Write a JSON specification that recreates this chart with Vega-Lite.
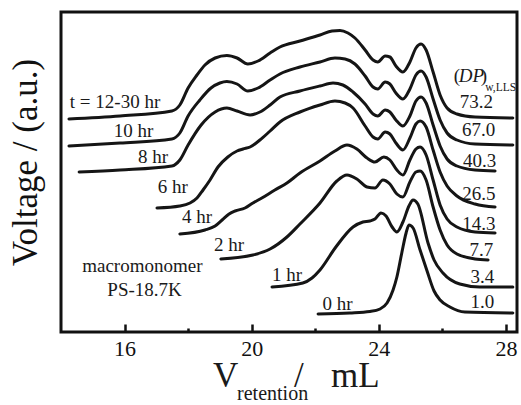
{
  "$schema": "https://vega.github.io/schema/vega-lite/v6.json",
  "width": 456,
  "height": 320,
  "autosize": {"type": "none"},
  "padding": {"left": 61, "top": 12, "right": 4, "bottom": 73},
  "background": "white",
  "config": {
    "view": {"stroke": "#111", "strokeWidth": 3}
  },
  "datasets": {
    "traces": [
      {"trace": "12-30 hr", "v": 14.25, "s": 213}, {"trace": "12-30 hr", "v": 15.86, "s": 216}, {"trace": "12-30 hr", "v": 17.49, "s": 221}, {"trace": "12-30 hr", "v": 17.74, "s": 227}, {"trace": "12-30 hr", "v": 18.0, "s": 244}, {"trace": "12-30 hr", "v": 18.28, "s": 257}, {"trace": "12-30 hr", "v": 18.53, "s": 267}, {"trace": "12-30 hr", "v": 18.85, "s": 274}, {"trace": "12-30 hr", "v": 19.22, "s": 276.5}, {"trace": "12-30 hr", "v": 19.54, "s": 274}, {"trace": "12-30 hr", "v": 19.88, "s": 268}, {"trace": "12-30 hr", "v": 20.2, "s": 271}, {"trace": "12-30 hr", "v": 20.58, "s": 279}, {"trace": "12-30 hr", "v": 20.89, "s": 285}, {"trace": "12-30 hr", "v": 21.52, "s": 291}, {"trace": "12-30 hr", "v": 22.15, "s": 297}, {"trace": "12-30 hr", "v": 22.53, "s": 301}, {"trace": "12-30 hr", "v": 22.78, "s": 301.5}, {"trace": "12-30 hr", "v": 23.03, "s": 299}, {"trace": "12-30 hr", "v": 23.25, "s": 294}, {"trace": "12-30 hr", "v": 23.57, "s": 282}, {"trace": "12-30 hr", "v": 23.82, "s": 272}, {"trace": "12-30 hr", "v": 23.97, "s": 270}, {"trace": "12-30 hr", "v": 24.2, "s": 276}, {"trace": "12-30 hr", "v": 24.35, "s": 275}, {"trace": "12-30 hr", "v": 24.54, "s": 266}, {"trace": "12-30 hr", "v": 24.76, "s": 260}, {"trace": "12-30 hr", "v": 24.98, "s": 270}, {"trace": "12-30 hr", "v": 25.17, "s": 284}, {"trace": "12-30 hr", "v": 25.33, "s": 288}, {"trace": "12-30 hr", "v": 25.49, "s": 282}, {"trace": "12-30 hr", "v": 25.71, "s": 260}, {"trace": "12-30 hr", "v": 25.93, "s": 237}, {"trace": "12-30 hr", "v": 26.15, "s": 224}, {"trace": "12-30 hr", "v": 26.46, "s": 218}, {"trace": "12-30 hr", "v": 27.03, "s": 215}, {"trace": "12-30 hr", "v": 28.22, "s": 214},

      {"trace": "10 hr", "v": 14.25, "s": 186}, {"trace": "10 hr", "v": 15.86, "s": 189}, {"trace": "10 hr", "v": 17.49, "s": 193}, {"trace": "10 hr", "v": 17.74, "s": 199}, {"trace": "10 hr", "v": 18.0, "s": 216}, {"trace": "10 hr", "v": 18.37, "s": 232}, {"trace": "10 hr", "v": 18.72, "s": 244}, {"trace": "10 hr", "v": 19.0, "s": 249}, {"trace": "10 hr", "v": 19.22, "s": 250.5}, {"trace": "10 hr", "v": 19.54, "s": 248}, {"trace": "10 hr", "v": 19.88, "s": 241}, {"trace": "10 hr", "v": 20.2, "s": 244}, {"trace": "10 hr", "v": 20.58, "s": 252}, {"trace": "10 hr", "v": 20.89, "s": 258}, {"trace": "10 hr", "v": 21.52, "s": 265}, {"trace": "10 hr", "v": 22.15, "s": 270}, {"trace": "10 hr", "v": 22.62, "s": 274}, {"trace": "10 hr", "v": 22.94, "s": 273}, {"trace": "10 hr", "v": 23.25, "s": 268}, {"trace": "10 hr", "v": 23.57, "s": 256}, {"trace": "10 hr", "v": 23.82, "s": 245}, {"trace": "10 hr", "v": 23.97, "s": 243}, {"trace": "10 hr", "v": 24.2, "s": 250}, {"trace": "10 hr", "v": 24.35, "s": 248}, {"trace": "10 hr", "v": 24.54, "s": 239}, {"trace": "10 hr", "v": 24.76, "s": 233}, {"trace": "10 hr", "v": 24.98, "s": 243}, {"trace": "10 hr", "v": 25.17, "s": 257}, {"trace": "10 hr", "v": 25.33, "s": 261}, {"trace": "10 hr", "v": 25.49, "s": 255}, {"trace": "10 hr", "v": 25.71, "s": 233}, {"trace": "10 hr", "v": 25.93, "s": 212}, {"trace": "10 hr", "v": 26.15, "s": 199}, {"trace": "10 hr", "v": 26.46, "s": 192}, {"trace": "10 hr", "v": 27.03, "s": 188}, {"trace": "10 hr", "v": 28.22, "s": 187},

      {"trace": "8 hr", "v": 14.57, "s": 160}, {"trace": "8 hr", "v": 15.86, "s": 162}, {"trace": "8 hr", "v": 17.49, "s": 166}, {"trace": "8 hr", "v": 17.74, "s": 172}, {"trace": "8 hr", "v": 18.0, "s": 187}, {"trace": "8 hr", "v": 18.41, "s": 207}, {"trace": "8 hr", "v": 18.85, "s": 220}, {"trace": "8 hr", "v": 19.22, "s": 224}, {"trace": "8 hr", "v": 19.54, "s": 221}, {"trace": "8 hr", "v": 19.95, "s": 217}, {"trace": "8 hr", "v": 20.26, "s": 220}, {"trace": "8 hr", "v": 20.58, "s": 227}, {"trace": "8 hr", "v": 20.89, "s": 235}, {"trace": "8 hr", "v": 21.52, "s": 241}, {"trace": "8 hr", "v": 22.15, "s": 246}, {"trace": "8 hr", "v": 22.56, "s": 249}, {"trace": "8 hr", "v": 22.87, "s": 247}, {"trace": "8 hr", "v": 23.19, "s": 240}, {"trace": "8 hr", "v": 23.57, "s": 228}, {"trace": "8 hr", "v": 23.82, "s": 218}, {"trace": "8 hr", "v": 23.97, "s": 216}, {"trace": "8 hr", "v": 24.2, "s": 222}, {"trace": "8 hr", "v": 24.35, "s": 220}, {"trace": "8 hr", "v": 24.54, "s": 212}, {"trace": "8 hr", "v": 24.76, "s": 206}, {"trace": "8 hr", "v": 24.98, "s": 216}, {"trace": "8 hr", "v": 25.17, "s": 231}, {"trace": "8 hr", "v": 25.33, "s": 235}, {"trace": "8 hr", "v": 25.49, "s": 229}, {"trace": "8 hr", "v": 25.71, "s": 207}, {"trace": "8 hr", "v": 25.93, "s": 186}, {"trace": "8 hr", "v": 26.15, "s": 173}, {"trace": "8 hr", "v": 26.46, "s": 166}, {"trace": "8 hr", "v": 27.03, "s": 162}, {"trace": "8 hr", "v": 27.66, "s": 161},

      {"trace": "6 hr", "v": 17.02, "s": 124}, {"trace": "6 hr", "v": 17.74, "s": 126}, {"trace": "6 hr", "v": 18.06, "s": 129}, {"trace": "6 hr", "v": 18.28, "s": 134}, {"trace": "6 hr", "v": 18.47, "s": 142}, {"trace": "6 hr", "v": 18.69, "s": 152}, {"trace": "6 hr", "v": 18.94, "s": 165}, {"trace": "6 hr", "v": 19.25, "s": 175}, {"trace": "6 hr", "v": 19.54, "s": 181}, {"trace": "6 hr", "v": 19.73, "s": 183}, {"trace": "6 hr", "v": 19.95, "s": 185}, {"trace": "6 hr", "v": 20.26, "s": 192}, {"trace": "6 hr", "v": 20.58, "s": 201}, {"trace": "6 hr", "v": 20.89, "s": 210}, {"trace": "6 hr", "v": 21.52, "s": 220}, {"trace": "6 hr", "v": 22.15, "s": 227}, {"trace": "6 hr", "v": 22.62, "s": 231}, {"trace": "6 hr", "v": 22.94, "s": 229}, {"trace": "6 hr", "v": 23.19, "s": 224}, {"trace": "6 hr", "v": 23.57, "s": 206}, {"trace": "6 hr", "v": 23.82, "s": 195}, {"trace": "6 hr", "v": 23.97, "s": 193}, {"trace": "6 hr", "v": 24.2, "s": 200}, {"trace": "6 hr", "v": 24.35, "s": 198}, {"trace": "6 hr", "v": 24.54, "s": 189}, {"trace": "6 hr", "v": 24.76, "s": 182}, {"trace": "6 hr", "v": 24.98, "s": 194}, {"trace": "6 hr", "v": 25.17, "s": 208}, {"trace": "6 hr", "v": 25.3, "s": 211}, {"trace": "6 hr", "v": 25.49, "s": 205}, {"trace": "6 hr", "v": 25.71, "s": 182}, {"trace": "6 hr", "v": 25.93, "s": 160}, {"trace": "6 hr", "v": 26.15, "s": 146}, {"trace": "6 hr", "v": 26.46, "s": 136}, {"trace": "6 hr", "v": 27.03, "s": 128}, {"trace": "6 hr", "v": 27.66, "s": 125},

      {"trace": "4 hr", "v": 17.74, "s": 98}, {"trace": "4 hr", "v": 18.53, "s": 102}, {"trace": "4 hr", "v": 18.85, "s": 106}, {"trace": "4 hr", "v": 19.07, "s": 112}, {"trace": "4 hr", "v": 19.29, "s": 118}, {"trace": "4 hr", "v": 19.48, "s": 121}, {"trace": "4 hr", "v": 19.79, "s": 124}, {"trace": "4 hr", "v": 20.04, "s": 129}, {"trace": "4 hr", "v": 20.32, "s": 134}, {"trace": "4 hr", "v": 20.73, "s": 142}, {"trace": "4 hr", "v": 21.11, "s": 149}, {"trace": "4 hr", "v": 21.52, "s": 159}, {"trace": "4 hr", "v": 22.15, "s": 171}, {"trace": "4 hr", "v": 22.62, "s": 181}, {"trace": "4 hr", "v": 23.0, "s": 187}, {"trace": "4 hr", "v": 23.31, "s": 183}, {"trace": "4 hr", "v": 23.63, "s": 174}, {"trace": "4 hr", "v": 23.88, "s": 170}, {"trace": "4 hr", "v": 24.16, "s": 175}, {"trace": "4 hr", "v": 24.35, "s": 172}, {"trace": "4 hr", "v": 24.57, "s": 162}, {"trace": "4 hr", "v": 24.76, "s": 157}, {"trace": "4 hr", "v": 24.98, "s": 172}, {"trace": "4 hr", "v": 25.17, "s": 183}, {"trace": "4 hr", "v": 25.3, "s": 185}, {"trace": "4 hr", "v": 25.49, "s": 177}, {"trace": "4 hr", "v": 25.71, "s": 152}, {"trace": "4 hr", "v": 25.93, "s": 127}, {"trace": "4 hr", "v": 26.15, "s": 113}, {"trace": "4 hr", "v": 26.46, "s": 105}, {"trace": "4 hr", "v": 27.03, "s": 100}, {"trace": "4 hr", "v": 27.66, "s": 99},

      {"trace": "2 hr", "v": 19.03, "s": 73}, {"trace": "2 hr", "v": 20.04, "s": 77}, {"trace": "2 hr", "v": 20.58, "s": 83}, {"trace": "2 hr", "v": 21.11, "s": 95}, {"trace": "2 hr", "v": 21.52, "s": 108}, {"trace": "2 hr", "v": 22.15, "s": 129}, {"trace": "2 hr", "v": 22.68, "s": 151}, {"trace": "2 hr", "v": 23.0, "s": 157}, {"trace": "2 hr", "v": 23.31, "s": 153}, {"trace": "2 hr", "v": 23.63, "s": 145}, {"trace": "2 hr", "v": 23.88, "s": 144}, {"trace": "2 hr", "v": 24.13, "s": 152}, {"trace": "2 hr", "v": 24.35, "s": 148}, {"trace": "2 hr", "v": 24.57, "s": 138}, {"trace": "2 hr", "v": 24.76, "s": 135}, {"trace": "2 hr", "v": 24.98, "s": 150}, {"trace": "2 hr", "v": 25.17, "s": 160}, {"trace": "2 hr", "v": 25.3, "s": 161}, {"trace": "2 hr", "v": 25.49, "s": 152}, {"trace": "2 hr", "v": 25.71, "s": 125}, {"trace": "2 hr", "v": 25.93, "s": 102}, {"trace": "2 hr", "v": 26.15, "s": 87}, {"trace": "2 hr", "v": 26.46, "s": 78}, {"trace": "2 hr", "v": 27.03, "s": 73}, {"trace": "2 hr", "v": 27.44, "s": 72},

      {"trace": "1 hr", "v": 20.64, "s": 45}, {"trace": "1 hr", "v": 21.61, "s": 49}, {"trace": "1 hr", "v": 21.9, "s": 54}, {"trace": "1 hr", "v": 22.15, "s": 62}, {"trace": "1 hr", "v": 22.65, "s": 85}, {"trace": "1 hr", "v": 23.19, "s": 105}, {"trace": "1 hr", "v": 23.5, "s": 110}, {"trace": "1 hr", "v": 23.72, "s": 111}, {"trace": "1 hr", "v": 23.88, "s": 113}, {"trace": "1 hr", "v": 24.07, "s": 119}, {"trace": "1 hr", "v": 24.23, "s": 116}, {"trace": "1 hr", "v": 24.42, "s": 105}, {"trace": "1 hr", "v": 24.57, "s": 100}, {"trace": "1 hr", "v": 24.76, "s": 110}, {"trace": "1 hr", "v": 24.95, "s": 126}, {"trace": "1 hr", "v": 25.08, "s": 132}, {"trace": "1 hr", "v": 25.23, "s": 128}, {"trace": "1 hr", "v": 25.55, "s": 89}, {"trace": "1 hr", "v": 25.74, "s": 72}, {"trace": "1 hr", "v": 26.02, "s": 59}, {"trace": "1 hr", "v": 26.55, "s": 48}, {"trace": "1 hr", "v": 27.18, "s": 45}, {"trace": "1 hr", "v": 28.22, "s": 45},

      {"trace": "0 hr", "v": 22.09, "s": 18}, {"trace": "0 hr", "v": 23.09, "s": 19}, {"trace": "0 hr", "v": 23.72, "s": 20.5}, {"trace": "0 hr", "v": 24.04, "s": 23}, {"trace": "0 hr", "v": 24.26, "s": 29}, {"trace": "0 hr", "v": 24.45, "s": 42}, {"trace": "0 hr", "v": 24.57, "s": 55}, {"trace": "0 hr", "v": 24.73, "s": 80}, {"trace": "0 hr", "v": 24.86, "s": 99}, {"trace": "0 hr", "v": 24.95, "s": 107}, {"trace": "0 hr", "v": 25.08, "s": 104}, {"trace": "0 hr", "v": 25.3, "s": 82}, {"trace": "0 hr", "v": 25.52, "s": 61}, {"trace": "0 hr", "v": 25.74, "s": 41}, {"trace": "0 hr", "v": 25.93, "s": 32}, {"trace": "0 hr", "v": 26.24, "s": 25}, {"trace": "0 hr", "v": 26.71, "s": 20}, {"trace": "0 hr", "v": 28.22, "s": 19}
    ],
    "captions": [
      {"text": "t = 12-30 hr", "v": 15.7, "s": 224},
      {"text": "10 hr", "v": 16.28, "s": 195},
      {"text": "8 hr", "v": 16.9, "s": 169},
      {"text": "6 hr", "v": 17.52, "s": 139},
      {"text": "4 hr", "v": 18.28, "s": 109},
      {"text": "2 hr", "v": 19.29, "s": 81},
      {"text": "1 hr", "v": 21.11, "s": 51},
      {"text": "0 hr", "v": 22.7, "s": 22},
      {"text": "macromonomer", "v": 16.56, "s": 60},
      {"text": "PS-18.7K", "v": 16.63, "s": 36},
      {"text": "73.2", "v": 27.07, "s": 224},
      {"text": "67.0", "v": 27.14, "s": 196},
      {"text": "40.3", "v": 27.17, "s": 165},
      {"text": "26.5", "v": 27.15, "s": 132},
      {"text": "14.3", "v": 27.15, "s": 102},
      {"text": "7.7", "v": 27.23, "s": 76},
      {"text": "3.4", "v": 27.26, "s": 49},
      {"text": "1.0", "v": 27.26, "s": 24}
    ]
  },
  "layer": [
    {
      "data": {"name": "traces"},
      "mark": {"type": "line", "interpolate": "monotone", "color": "#151515", "strokeWidth": 3, "strokeJoin": "round", "strokeCap": "round"},
      "encoding": {
        "x": {
          "field": "v", "type": "quantitative",
          "scale": {"domain": [14, 28.35], "nice": false, "zero": false},
          "axis": {
            "values": [16, 18, 20, 22, 24, 26, 28],
            "labelExpr": "datum.value % 4 === 0 ? datum.label : ''",
            "tickSize": {"condition": {"test": "datum.value % 4 === 0", "value": -8}, "value": -4},
            "tickWidth": 2.5, "tickColor": "#111",
            "domain": false, "grid": false,
            "labelFont": "Liberation Serif", "labelFontSize": 22, "labelColor": "#111",
            "labelPadding": 14, "labelBaseline": "top",
            "title": null
          }
        },
        "y": {
          "field": "s", "type": "quantitative",
          "scale": {"domain": [0, 320], "nice": false},
          "axis": {
            "ticks": false, "labels": false, "domain": false, "grid": false,
            "title": "Voltage / (a.u.)",
            "titleFont": "Liberation Serif", "titleFontSize": 35, "titleFontWeight": "normal", "titleColor": "#111",
            "titleAngle": 270, "titleAlign": "center", "titleBaseline": "alphabetic",
            "titleX": -25, "titleY": 150
          }
        },
        "detail": {"field": "trace", "type": "nominal"}
      }
    },
    {
      "data": {"name": "captions"},
      "mark": {"type": "text", "font": "Liberation Serif", "color": "#1a1a1a", "fontSize": 19, "align": "center", "baseline": "alphabetic"},
      "encoding": {
        "x": {"field": "v", "type": "quantitative"},
        "y": {"field": "s", "type": "quantitative"},
        "text": {"field": "text"}
      }
    },
    {
      "data": {"values": [{"text": "(", "v": 26.36, "s": 250}, {"text": ")", "v": 27.21, "s": 250}]},
      "mark": {"type": "text", "font": "Liberation Serif", "color": "#1a1a1a", "fontSize": 19, "align": "left", "baseline": "alphabetic"},
      "encoding": {
        "x": {"field": "v", "type": "quantitative"},
        "y": {"field": "s", "type": "quantitative"},
        "text": {"field": "text"}
      }
    },
    {
      "data": {"values": [{"text": "DP", "v": 26.52, "s": 250}]},
      "mark": {"type": "text", "font": "Liberation Serif", "color": "#1a1a1a", "fontSize": 19, "fontStyle": "italic", "align": "left", "baseline": "alphabetic"},
      "encoding": {
        "x": {"field": "v", "type": "quantitative"},
        "y": {"field": "s", "type": "quantitative"},
        "text": {"field": "text"}
      }
    },
    {
      "data": {"values": [{"text": "w,LLS", "v": 27.35, "s": 241}]},
      "mark": {"type": "text", "font": "Liberation Serif", "color": "#1a1a1a", "fontSize": 11.5, "align": "left", "baseline": "alphabetic"},
      "encoding": {
        "x": {"field": "v", "type": "quantitative"},
        "y": {"field": "s", "type": "quantitative"},
        "text": {"field": "text"}
      }
    },
    {
      "data": {"values": [{"text": "V", "v": 18.78, "s": -55}, {"text": "/", "v": 21.33, "s": -55}, {"text": "mL", "v": 22.5, "s": -55}]},
      "mark": {"type": "text", "font": "Liberation Serif", "color": "#1a1a1a", "fontSize": 35, "align": "left", "baseline": "alphabetic"},
      "encoding": {
        "x": {"field": "v", "type": "quantitative"},
        "y": {"field": "s", "type": "quantitative"},
        "text": {"field": "text"}
      }
    },
    {
      "data": {"values": [{"text": "retention", "v": 19.54, "s": -68}]},
      "mark": {"type": "text", "font": "Liberation Serif", "color": "#1a1a1a", "fontSize": 20, "align": "left", "baseline": "alphabetic"},
      "encoding": {
        "x": {"field": "v", "type": "quantitative"},
        "y": {"field": "s", "type": "quantitative"},
        "text": {"field": "text"}
      }
    }
  ]
}
